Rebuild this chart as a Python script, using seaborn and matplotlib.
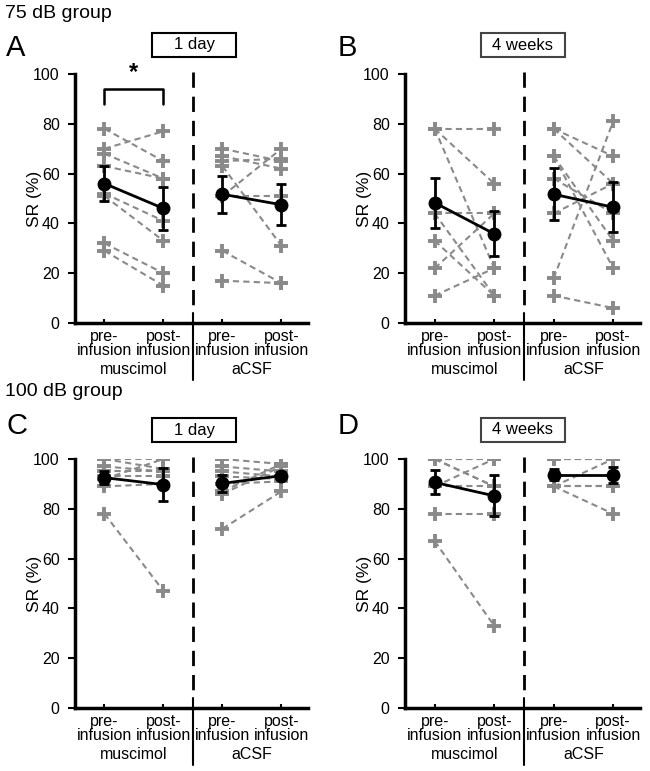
import numpy as np
import pandas as pd
import matplotlib
matplotlib.use("Agg")
import matplotlib.pyplot as plt
from matplotlib.patches import Rectangle
import seaborn as sns

sns.set_style("white")
plt.rcParams['font.family'] = ['Liberation Sans', 'DejaVu Sans']
plt.rcParams.update({"text.color": "black", "axes.labelcolor": "black",
                     "xtick.color": "black", "ytick.color": "black"})

# categorie e etichette
phases = ["pre-\ninfusion", "post-\ninfusion", "pre-\ninfusion", "post-\ninfusion"]
drugs = ["muscimol", "aCSF"]
yticks = [0, 20, 40, 60, 80, 100]

# singoli animali (pre, post) per pannello
a_mus_pre = [78, 70, 68, 63, 52, 51, 32, 29]
a_mus_post = [65, 77, 58, 58, 41, 33, 20, 15]
a_acsf_pre = [70, 67, 65, 63, 51, 51, 29, 17]
a_acsf_post = [65, 62, 66, 31, 70, 51, 16, 16]

b_mus_pre = [78, 78, 78, 44, 44, 33, 22, 11]
b_mus_post = [78, 56, 22, 44, 11, 11, 44, 22]
b_acsf_pre = [78, 78, 67, 67, 58, 44, 18, 11]
b_acsf_post = [67, 56, 33, 22, 44, 56, 81, 6]

c_mus_pre = [100, 100, 97, 95, 93, 92, 89, 78]
c_mus_post = [100, 96, 95, 95, 93, 100, 90, 47]
c_acsf_pre = [100, 97, 95, 93, 90, 87, 86, 72]
c_acsf_post = [98, 95, 93, 92, 91, 98, 97, 87]

d_mus_pre = [100, 100, 100, 100, 89, 89, 78, 67]
d_mus_post = [100, 100, 89, 89, 100, 89, 78, 33]
d_acsf_pre = [100, 100, 100, 89, 89, 89, 89]
d_acsf_post = [100, 100, 100, 100, 89, 89, 78]

# medie e errori (pre, post)
a_mus_mean, a_mus_err = [56, 46], [7, 8.5]
a_acsf_mean, a_acsf_err = [51.7, 47.5], [7.5, 8.3]
b_mus_mean, b_mus_err = [48.3, 35.8], [10, 9]
b_acsf_mean, b_acsf_err = [51.7, 46.5], [10.5, 10]
c_mus_mean, c_mus_err = [92.5, 89.7], [2.5, 6.5]
c_acsf_mean, c_acsf_err = [90.2, 93.3], [3.5, 1.5]
d_mus_mean, d_mus_err = [90.6, 85.2], [4.8, 8.2]
d_acsf_mean, d_acsf_err = [93.6, 93.6], [2.2, 3.2]

W, H = 650, 771
GRAY = "#8a8a8a"


def long_df(mus_pre, mus_post, acsf_pre, acsf_post):
    rows = []
    for i, (p, q) in enumerate(zip(mus_pre, mus_post)):
        rows += [("m%d" % i, 0, p), ("m%d" % i, 1, q)]
    for i, (p, q) in enumerate(zip(acsf_pre, acsf_post)):
        rows += [("a%d" % i, 2, p), ("a%d" % i, 3, q)]
    return pd.DataFrame(rows, columns=["subj", "x", "value"])


def draw_panel(ax, df, mus_mean, mus_err, acsf_mean, acsf_err):
    sns.lineplot(data=df, x="x", y="value", units="subj", estimator=None,
                 color=GRAY, lw=1.5, linestyle=(0, (3, 2)), marker="+",
                 markersize=10, markeredgewidth=2.8, markeredgecolor=GRAY,
                 legend=False, ax=ax, zorder=2)
    ax.errorbar([0, 1], mus_mean, yerr=mus_err, color="black", lw=2,
                marker="o", markersize=9, capsize=3.5, capthick=2, zorder=4)
    ax.errorbar([2, 3], acsf_mean, yerr=acsf_err, color="black", lw=2,
                marker="o", markersize=9, capsize=3.5, capthick=2, zorder=4)

    ax.set_xlim(-0.5, 3.45)
    ax.set_ylim(0, 100)
    ax.set_yticks(yticks)
    ax.set_xticks(range(4))
    ax.set_xticklabels(phases, fontsize=11.5, linespacing=0.92)
    ax.tick_params(axis="y", labelsize=11.5, direction="out", length=5,
                   width=1.5, pad=6, left=True)
    ax.tick_params(axis="x", direction="in", length=3, width=1.5, pad=4,
                   bottom=True)
    ax.set_xlabel("")
    ax.set_ylabel("SR (%)", fontsize=12.5)
    ax.yaxis.set_label_coords(-0.142, 0.5)
    for s in ["top", "right"]:
        ax.spines[s].set_visible(False)
    for s in ["left", "bottom"]:
        ax.spines[s].set_linewidth(2.5)
        ax.spines[s].set_color("black")

    # separatore
    ax.plot([1.5, 1.5], [101, 7], color="black", lw=2,
            linestyle=(0, (5.5, 3.2)), clip_on=False, zorder=1)
    ax.plot([1.5, 1.5], [4, -23], color="black", lw=1.5, clip_on=False)
    for xi, name in zip([0.5, 2.5], drugs):
        ax.text(xi, -18.5, name, ha="center", va="center", fontsize=11.5,
                transform=ax.transData)


def add_axes(fig, left, right, top, bottom):
    return fig.add_axes([left / W, 1 - bottom / H, (right - left) / W,
                         (bottom - top) / H])


def box_label(fig, cx, cy, text, ec):
    w, h = 84, 24
    fig.patches.append(Rectangle(((cx - w / 2) / W, 1 - (cy + h / 2) / H),
                                 w / W, h / H, transform=fig.transFigure,
                                 fill=False, ec=ec, lw=1.5))
    fig.text(cx / W, 1 - cy / H, text, ha="center", va="center", fontsize=12)


fig = plt.figure(figsize=(W / 100, H / 100), dpi=100)

ax_a = add_axes(fig, 75, 308, 74, 323)
ax_b = add_axes(fig, 405, 640, 74, 323)
ax_c = add_axes(fig, 75, 308, 459, 708)
ax_d = add_axes(fig, 405, 640, 459, 708)

draw_panel(ax_a, long_df(a_mus_pre, a_mus_post, a_acsf_pre, a_acsf_post),
           a_mus_mean, a_mus_err, a_acsf_mean, a_acsf_err)
draw_panel(ax_b, long_df(b_mus_pre, b_mus_post, b_acsf_pre, b_acsf_post),
           b_mus_mean, b_mus_err, b_acsf_mean, b_acsf_err)
draw_panel(ax_c, long_df(c_mus_pre, c_mus_post, c_acsf_pre, c_acsf_post),
           c_mus_mean, c_mus_err, c_acsf_mean, c_acsf_err)
draw_panel(ax_d, long_df(d_mus_pre, d_mus_post, d_acsf_pre, d_acsf_post),
           d_mus_mean, d_mus_err, d_acsf_mean, d_acsf_err)

# parentesi significativita
ax_a.plot([0, 0, 1, 1], [88, 94, 94, 88], color="black", lw=1.8, clip_on=False)
ax_a.text(0.5, 96, "*", ha="center", va="bottom", fontsize=17, fontweight="bold")

fig.text(5 / W, 1 - 13 / H, "75 dB group", ha="left", va="center", fontsize=14)
fig.text(5 / W, 1 - 392 / H, "100 dB group", ha="left", va="center", fontsize=14)
for x, y, lab in [(6, 48, "A"), (338, 48, "B"), (6, 426, "C"), (338, 426, "D")]:
    fig.text(x / W, 1 - y / H, lab, ha="left", va="center", fontsize=21)

box_label(fig, 194, 45, "1 day", "black")
box_label(fig, 523, 45, "4 weeks", "#444444")
box_label(fig, 194, 430, "1 day", "black")
box_label(fig, 523, 430, "4 weeks", "#444444")

fig.savefig("out.png", dpi=100)
